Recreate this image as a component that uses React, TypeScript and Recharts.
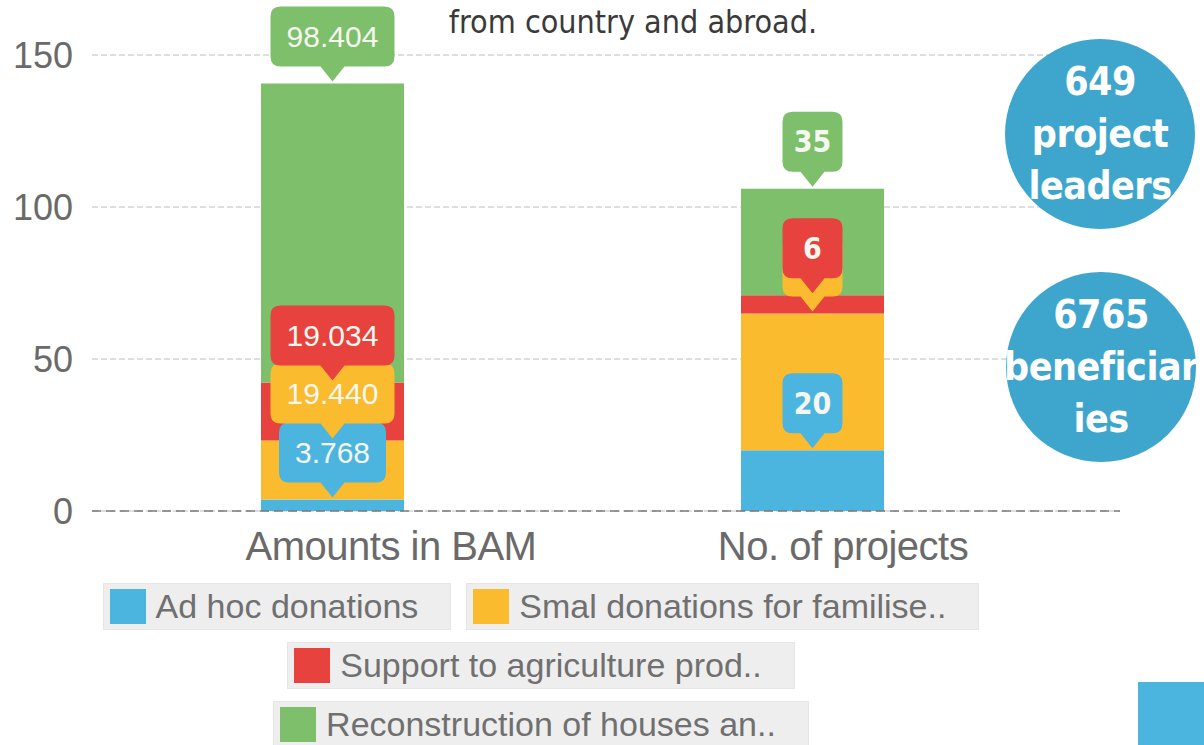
import React from 'react'
import { BarChart, Bar, XAxis, YAxis, CartesianGrid, ReferenceLine, LabelList } from 'recharts'

const categories = ['Amounts in BAM', 'No. of projects']
const adHoc = [3.768, 20]
const smallDonations = [19.44, 45]
const agriculture = [19.034, 6]
const reconstruction = [98.404, 35]

const seriesKeys = ['adHoc', 'small', 'agri', 'recon']
const seriesNames = [
  'Ad hoc donations',
  'Smal donations for familise..',
  'Support to agriculture prod..',
  'Reconstruction of houses an..',
]
const seriesColors = ['#4cb5df', '#fbbb2f', '#e8423f', '#7dbf6a']
const yTicks = [0, 50, 100, 150]

const leadersBubble = ['649', 'project', 'leaders']
const beneficiariesBubble = ['6765', 'beneficiar', 'ies']

const data = categories.map((name, i) => ({
  name,
  adHoc: adHoc[i],
  small: smallDonations[i],
  agri: agriculture[i],
  recon: reconstruction[i],
}))

// category labels sit a bit right of the bar centres in the original
const TICK_SHIFT = [59, 31]

function fmt(v: number) {
  return Number.isInteger(v) ? String(v) : v.toFixed(3)
}

function makeCallout(color: string) {
  return function Callout(props: any) {
    const { x, y, width, value } = props
    if (value == null) return null
    const cx = x + width / 2
    const tip = y - 2
    const ph = 15
    const bh = 60
    const r = 10
    const text = fmt(Number(value))
    const w = Math.max(60, text.length * 17 + 22)
    const l = cx - w / 2
    const rr = cx + w / 2
    const bottom = tip - ph
    const top = bottom - bh
    const d = `M${l + r},${top} H${rr - r} Q${rr},${top} ${rr},${top + r} V${bottom - r} Q${rr},${bottom} ${rr - r},${bottom} H${cx + 12} L${cx},${tip} L${cx - 12},${bottom} H${l + r} Q${l},${bottom} ${l},${bottom - r} V${top + r} Q${l},${top} ${l + r},${top} Z`
    const isInt = Number.isInteger(Number(value))
    return (
      <g>
        <path d={d} fill={color} />
        <text
          x={cx}
          y={(top + bottom) / 2}
          textAnchor="middle"
          dominantBaseline="central"
          fill="#f4f8f0"
          fontSize={30}
          fontWeight={isInt ? 'bold' : 'normal'}
          fontFamily={isInt ? '"DejaVu Sans Condensed", "DejaVu Sans"' : '"Liberation Sans", Arial'}
        >
          {text}
        </text>
      </g>
    )
  }
}

function CategoryTick(props: any) {
  const { x, y, payload, index } = props
  return (
    <text
      x={x + (TICK_SHIFT[index] ?? 0)}
      y={y + 49}
      textAnchor="middle"
      fill="#6a6a6a"
      fontSize={40}
      fontFamily='"Liberation Sans", Arial'
      letterSpacing={-0.5}
    >
      {payload.value}
    </text>
  )
}

function Bubble({ lines, cx, cy }: { lines: string[]; cx: number; cy: number }) {
  const r = 95
  return (
    <div
      style={{
        position: 'absolute',
        left: cx - r,
        top: cy - r,
        width: r * 2,
        height: r * 2,
        borderRadius: '50%',
        background: '#3ea6cc',
        display: 'flex',
        flexDirection: 'column',
        alignItems: 'center',
        justifyContent: 'center',
        color: '#ffffff',
        fontFamily: '"DejaVu Sans Condensed", "DejaVu Sans"',
        fontWeight: 'bold',
        fontSize: 39,
        letterSpacing: -0.5,
        lineHeight: '52px',
        whiteSpace: 'nowrap',
      }}
    >
      {lines.map((l) => (
        <div key={l}>{l}</div>
      ))}
    </div>
  )
}

export default function App() {
  return (
    <div
      style={{
        position: 'absolute',
        left: 0,
        top: 0,
        width: 1204,
        height: 745,
        overflow: 'hidden',
        background: '#ffffff',
        fontFamily: '"Liberation Sans", Arial, sans-serif',
      }}
    >
      <BarChart
        width={1204}
        height={745}
        data={data}
        margin={{ top: 55, right: 84, left: 0, bottom: 184 }}
        barCategoryGap={0}
      >
        <CartesianGrid vertical={false} stroke="#bdbdbd" strokeDasharray="6 3" />
        <XAxis
          dataKey="name"
          height={50}
          padding={{ left: 0, right: 68 }}
          axisLine={false}
          tickLine={false}
          tickSize={0}
          tickMargin={0}
          tick={<CategoryTick />}
          interval={0}
        />
        <XAxis xAxisId="ov" dataKey="name" hide padding={{ left: 0, right: 68 }} />
        <YAxis
          width={92}
          domain={[0, 150]}
          ticks={yTicks}
          axisLine={false}
          tickLine={false}
          tickSize={0}
          tickMargin={19}
          tick={{ fill: '#6a6a6a', fontSize: 36, fontFamily: '"Liberation Sans", Arial' }}
        />
        <ReferenceLine y={0} stroke="#7a7a7a" strokeDasharray="9 5" strokeWidth={1.5} />
        {seriesKeys.map((k, i) => (
          <Bar
            key={k}
            dataKey={k}
            name={seriesNames[i]}
            stackId="a"
            fill={seriesColors[i]}
            barSize={143}
            isAnimationActive={false}
          />
        ))}
        {/* transparent copies on a hidden axis so the callouts sit above every bar */}
        {seriesKeys.map((k, i) => (
          <Bar
            key={'ov-' + k}
            xAxisId="ov"
            dataKey={k}
            stackId="ov"
            fill="transparent"
            barSize={143}
            isAnimationActive={false}
            legendType="none"
          >
            <LabelList dataKey={k} content={makeCallout(seriesColors[i])} />
          </Bar>
        ))}
      </BarChart>

      <div
        style={{
          position: 'absolute',
          left: 633,
          top: 3,
          transform: 'translateX(-50%)',
          whiteSpace: 'nowrap',
          fontFamily: '"DejaVu Sans Condensed", "DejaVu Sans"',
          fontSize: 32,
          lineHeight: '38px',
          color: '#3a3a3a',
        }}
      >
        from country and abroad.
      </div>

      <Bubble lines={leadersBubble} cx={1100} cy={134} />
      <Bubble lines={beneficiariesBubble} cx={1101} cy={367} />

      <div
        style={{
          position: 'absolute',
          left: 86,
          top: 583,
          width: 910,
          display: 'flex',
          flexWrap: 'wrap',
          justifyContent: 'center',
          columnGap: 15,
          rowGap: 12,
        }}
      >
        {seriesNames.map((n, i) => (
          <div
            key={n}
            style={{
              height: 47,
              boxSizing: 'border-box',
              background: '#eeeeee',
              border: '1px solid #e6e6e6',
              display: 'flex',
              alignItems: 'center',
              padding: '0 32px 0 6px',
            }}
          >
            <span
              style={{
                display: 'inline-block',
                width: 36,
                height: 35,
                background: seriesColors[i],
                marginRight: 10,
              }}
            />
            <span style={{ fontSize: 34, color: '#707070', whiteSpace: 'nowrap' }}>{n}</span>
          </div>
        ))}
      </div>

      <div
        style={{
          position: 'absolute',
          left: 1138,
          top: 682,
          width: 66,
          height: 63,
          background: '#4cb5df',
        }}
      />
    </div>
  )
}
